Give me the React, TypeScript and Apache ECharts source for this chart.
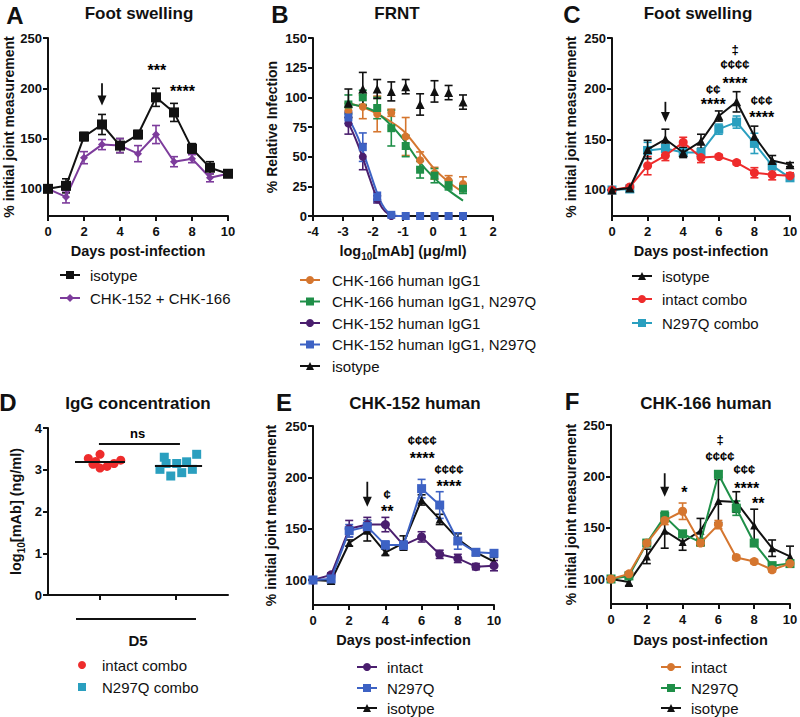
import React, { useEffect, useRef } from "react";
import * as echarts from "echarts";

const FONT = "'Liberation Sans', Arial, Helvetica, sans-serif";
const BLACK = "#111111";
const PURPLE = "#7D3C9C";
const ORANGE = "#D5762F";
const GREEN = "#1F8F48";
const DPURPLE = "#4A1E6E";
const BLUE = "#3D62C4";
const RED = "#EE2C2C";
const TEAL = "#2A9FBF";

// ---------------- DATA ----------------
const days = [0, 1, 2, 3, 4, 5, 6, 7, 8, 9, 10];
const swellingTicks = [100, 150, 200, 250];

// Panel A
const aIsotype = [100, 103, 152, 164, 143, 154, 191, 176, 140, 121, 115];
const aIsotypeErr = [1, 7, 4, 10, 7, 4, 9, 9, 5, 6, 3];
const aCombo = [100, 92, 131, 144, 143, 135, 154, 127, 130, 111, 115];
const aComboErr = [1, 6, 6, 5, 7, 8, 9, 5, 4, 4, 3];
const aNotes = ["***", "****"];
const aNoteX = [6.05, 7.47];
const aNoteY = [221.5, 201];
const aArrow = [3, 205, 183];

// Panel B
const logDose = [-2.82, -2.34, -1.86, -1.39, -0.91, -0.43, 0.05, 0.52, 1.0];
const b166 = [89, 92, 86, 87, 67, 47, 36, 30, 27];
const b166Err = [6, 10, 15, 3, 16, 7, 5, 4, 6];
const b166NQ = [94, 100, 91, 74, 59, 39, 34, 26, 23];
const b166NQErr = [8, 6, 9, 15, 9, 7, 6, 4, 4];
const b152 = [78, 50, 14, 0, 0, 0, 0, 0, 0];
const b152Err = [9, 11, 3, 0, 0, 0, 0, 0, 0];
const b152NQ = [83, 58, 16, 1, 0, 0, 0, 0, 0];
const b152NQErr = [5, 12, 4, 1, 0, 0, 0, 0, 0];
const bIso = [95, 107, 107, 105, 109, 94, 105, 104, 96];
const bIsoErr = [12, 14, 8, 8, 6, 9, 9, 6, 6];
const fitX166 = [-2.9, -2.5, -2.0, -1.5, -1.0, -0.5, 0.0, 0.5, 1.0];
const fit166 = [95, 93, 88, 81, 72, 57, 41, 29, 20];
const fit166NQ = [95, 93, 89, 79, 65, 47, 33, 22, 13];
const fitX152 = [-2.9, -2.7, -2.5, -2.3, -2.1, -1.9, -1.7, -1.5, -1.3, -1.0];
const fit152 = [82, 72, 60, 46, 31, 17, 7, 2, 0, 0];
const fit152NQ = [86, 77, 66, 52, 37, 22, 10, 3, 0.5, 0];

// Panel C
const cIso = [100, 102, 140, 150, 137, 148, 173, 187, 153, 129, 125];
const cIsoErr = [1, 2, 9, 10, 5, 7, 5, 10, 10, 5, 2];
const cIntact = [100, 103, 124, 134, 147, 132, 133, 127, 117, 115, 114];
const cIntactErr = [1, 2, 9, 5, 5, 5, 2, 2, 5, 5, 3];
const cNQ = [100, 101, 139, 141, 137, 137, 160, 167, 146, 124, 112];
const cNQErr = [1, 2, 8, 4, 4, 4, 5, 6, 10, 4, 3];
const cNotes = ["¢¢", "****", "‡", "¢¢¢¢", "****", "¢¢¢", "****"];
const cNoteX = [5.69, 5.69, 6.91, 6.91, 6.91, 8.41, 8.41];
const cNoteY = [199.4, 188.8, 238.2, 223.4, 209.2, 188.8, 175.7];
const cArrow = [3, 187, 167];

// Panel D
const dGroupTicks = [2.9, 7.1];
const dIntactX = [2.24, 2.65, 2.89, 2.5, 2.89, 3.28, 3.67, 4.04];
const dIntact = [3.27, 3.2, 3.37, 3.13, 3.04, 3.08, 3.15, 3.23];
const dNQX = [6.46, 6.22, 6.82, 7.15, 7.43, 7.7, 8.02, 8.26, 6.56];
const dNQ = [3.3, 3.01, 2.85, 3.15, 2.93, 3.19, 3.01, 3.37, 3.15];
const dIntactMeanSpan = [1.5, 4.28];
const dNQMeanSpan = [5.94, 8.56];
const dNsSpan = [2.83, 7.33, 3.63];
const dNsLabel = [4.98, 3.87];

// Panel E
const eIntact = [100, 105, 150, 154, 154, 134, 142, 125, 121, 113, 114];
const eIntactErr = [1, 2, 8, 7, 7, 3, 5, 4, 4, 3, 5];
const eNQ = [100, 101, 148, 152, 134, 134, 189, 173, 138, 127, 126];
const eNQErr = [1, 2, 6, 6, 4, 4, 9, 13, 8, 3, 3];
const eIso = [100, 99, 136, 148, 127, 136, 178, 159, 140, 127, 118];
const eIsoErr = [1, 3, 3, 10, 3, 7, 5, 5, 5, 3, 4];
const eNotes = ["¢", "**", "¢¢¢¢", "****", "¢¢¢¢", "****"];
const eNoteX = [4.1, 4.1, 6.04, 6.04, 7.51, 7.51];
const eNoteY = [182.8, 170.4, 235.7, 222.4, 207.8, 194.8];
const eArrow = [3, 195.7, 171.4];

// Panel F
const fIntact = [100, 105, 135, 157, 166, 135, 153, 121, 117, 109, 115];
const fIntactErr = [1, 2, 3, 4, 8, 3, 4, 2, 2, 2, 3];
const fNQ = [100, 103, 135, 161, 144, 136, 202, 169, 135, 113, 115];
const fNQErr = [1, 3, 3, 5, 3, 3, 3, 7, 3, 3, 3];
const fIso = [100, 97, 122, 147, 136, 147, 176, 175, 152, 130, 122];
const fIsoErr = [1, 4, 7, 17, 8, 12, 21, 10, 16, 8, 10];
const fNotes = ["‡", "¢¢¢¢", "¢¢¢", "****", "*", "**"];
const fNoteX = [6.09, 6.09, 7.45, 7.58, 4.1, 8.23];
const fNoteY = [235.4, 219.8, 206.2, 192.5, 188.3, 177];
const fArrow = [3, 203, 180.2];

// Legends
const legendA = ["isotype", "CHK-152 + CHK-166"];
const legendB = [
  "CHK-166 human IgG1",
  "CHK-166 human IgG1, N297Q",
  "CHK-152 human IgG1",
  "CHK-152 human IgG1, N297Q",
  "isotype",
];
const legendC = ["isotype", "intact combo", "N297Q combo"];
const legendD = ["intact combo", "N297Q combo"];
const legendEF = ["intact", "N297Q", "isotype"];

// ---------------- HELPERS ----------------
const tickLabelStyle = {
  color: BLACK,
  fontSize: 13,
  fontWeight: "bold",
  fontFamily: FONT,
};
const nameStyle = {
  color: BLACK,
  fontSize: 14.5,
  fontWeight: "bold",
  fontFamily: FONT,
};
const richSub = {
  n: { fontSize: 14.5, fontWeight: "bold", fontFamily: FONT, color: BLACK, lineHeight: 20 },
  s: { fontSize: 10, fontWeight: "bold", fontFamily: FONT, color: BLACK, lineHeight: 20, verticalAlign: "bottom" },
};

function xAxisCfg(grid: number, min: number, max: number, interval: number | undefined, name: string, nameGap: number, extra: any = {}) {
  return {
    gridIndex: grid,
    type: "value",
    min,
    max,
    interval,
    axisLine: { show: true, onZero: false, lineStyle: { color: BLACK, width: 2 } },
    axisTick: { show: true, length: 5, lineStyle: { color: BLACK, width: 2 } },
    axisLabel: { ...tickLabelStyle, margin: 9 },
    splitLine: { show: false },
    name,
    nameLocation: "middle",
    nameGap,
    nameTextStyle: { ...nameStyle },
    ...extra,
  };
}

function yAxisCfg(grid: number, min: number, max: number, name: string, nameGap: number, extra: any = {}) {
  return {
    gridIndex: grid,
    type: "value",
    min,
    max,
    axisLine: { show: true, onZero: false, lineStyle: { color: BLACK, width: 2 } },
    axisTick: { show: true, length: 5, lineStyle: { color: BLACK, width: 2 } },
    axisLabel: { ...tickLabelStyle, margin: 6 },
    splitLine: { show: false },
    name,
    nameLocation: "middle",
    nameGap,
    nameTextStyle: { ...nameStyle, fontSize: 14 },
    ...extra,
  };
}

function swellingY(grid: number, min: number, nameGap: number) {
  return yAxisCfg(grid, min, 250, "% initial joint measurement", nameGap, {
    axisTick: { show: true, length: 5, lineStyle: { color: BLACK, width: 2 }, customValues: swellingTicks },
    axisLabel: { ...tickLabelStyle, margin: 6, customValues: swellingTicks },
  });
}

function lineSeries(grid: number, xs: number[], ys: number[], color: string, symbol: string, size: number, z = 3, extra: any = {}) {
  return {
    type: "line",
    xAxisIndex: grid,
    yAxisIndex: grid,
    data: xs.map((x, i) => [x, ys[i]]),
    symbol,
    symbolSize: size,
    showSymbol: symbol !== "none",
    lineStyle: { color, width: 2 },
    itemStyle: { color, borderWidth: 0 },
    z,
    silent: true,
    emphasis: { disabled: true },
    ...extra,
  };
}

function scatterSeries(grid: number, xs: number[], ys: number[], color: string, symbol: string, size: number, z = 4, extra: any = {}) {
  return {
    type: "scatter",
    xAxisIndex: grid,
    yAxisIndex: grid,
    data: xs.map((x, i) => [x, ys[i]]),
    symbol,
    symbolSize: size,
    itemStyle: { color, opacity: 1 },
    z,
    silent: true,
    emphasis: { disabled: true },
    ...extra,
  };
}

function errSeries(grid: number, xs: number[], ys: number[], errs: number[], color: string, z = 2) {
  return {
    type: "custom",
    xAxisIndex: grid,
    yAxisIndex: grid,
    data: xs.map((x, i) => [x, ys[i] - errs[i], ys[i] + errs[i]]),
    z,
    silent: true,
    renderItem: (_p: any, api: any) => {
      const x = api.value(0);
      const lo = api.coord([x, api.value(1)]);
      const hi = api.coord([x, api.value(2)]);
      if (Math.abs(lo[1] - hi[1]) < 1.5) return { type: "group", children: [] };
      const w = 4;
      const st = { stroke: color, lineWidth: 1.6 };
      return {
        type: "group",
        children: [
          { type: "line", shape: { x1: lo[0], y1: lo[1], x2: hi[0], y2: hi[1] }, style: st },
          { type: "line", shape: { x1: lo[0] - w, y1: lo[1], x2: lo[0] + w, y2: lo[1] }, style: st },
          { type: "line", shape: { x1: hi[0] - w, y1: hi[1], x2: hi[0] + w, y2: hi[1] }, style: st },
        ],
      };
    },
  };
}

function notesSeries(grid: number, xs: number[], ys: number[], texts: string[]) {
  return {
    type: "custom",
    xAxisIndex: grid,
    yAxisIndex: grid,
    data: xs.map((x, i) => [x, ys[i]]),
    z: 10,
    silent: true,
    renderItem: (p: any, api: any) => {
      const pt = api.coord([api.value(0), api.value(1)]);
      const t = texts[p.dataIndex];
      const star = t.indexOf("*") >= 0;
      const size = star ? 16 : 13;
      return {
        type: "text",
        x: pt[0],
        y: pt[1] + (star ? 4 : 0),
        style: {
          text: t,
          fill: "#000000",
          fontSize: size,
          fontWeight: "bold",
          fontFamily: FONT,
          align: "center",
          verticalAlign: "middle",
          textAlign: "center",
          textVerticalAlign: "middle",
        },
      };
    },
  };
}

function arrowSeries(grid: number, arrow: number[]) {
  return {
    type: "custom",
    xAxisIndex: grid,
    yAxisIndex: grid,
    data: [[arrow[0], arrow[1], arrow[2]]],
    z: 10,
    silent: true,
    renderItem: (_p: any, api: any) => {
      const a = api.coord([api.value(0), api.value(1)]);
      const b = api.coord([api.value(0), api.value(2)]);
      const hw = 4.5;
      const hl = 10;
      return {
        type: "group",
        children: [
          { type: "line", shape: { x1: a[0], y1: a[1], x2: b[0], y2: b[1] - hl + 1 }, style: { stroke: BLACK, lineWidth: 1.8 } },
          {
            type: "polygon",
            shape: { points: [[b[0] - hw, b[1] - hl], [b[0] + hw, b[1] - hl], [b[0], b[1]]] },
            style: { fill: BLACK },
          },
        ],
      };
    },
  };
}

function hLine(x1: number, x2: number, y: number) {
  return {
    silent: true,
    symbol: ["none", "none"],
    label: { show: false },
    lineStyle: { color: BLACK, width: 2, type: "solid" },
    emphasis: { disabled: true },
    data: [[{ coord: [x1, y] }, { coord: [x2, y] }]],
  };
}

function mean(a: number[]) {
  return a.reduce((s, v) => s + v, 0) / a.length;
}

function symbolEl(kind: string, cx: number, cy: number, s: number, color: string) {
  const style = { fill: color };
  if (kind === "circle") return { type: "circle", shape: { cx, cy, r: s / 2 }, style };
  if (kind === "rect") return { type: "rect", shape: { x: cx - s / 2, y: cy - s / 2, width: s, height: s }, style };
  if (kind === "triangle")
    return { type: "polygon", shape: { points: [[cx, cy - s / 2], [cx + s / 2, cy + s / 2], [cx - s / 2, cy + s / 2]] }, style };
  return { type: "polygon", shape: { points: [[cx, cy - s / 2], [cx + s / 2, cy], [cx, cy + s / 2], [cx - s / 2, cy]] }, style };
}

function textEl(text: string, x: number, y: number, size: number, weight: string, align = "left") {
  return {
    type: "text",
    x,
    y,
    silent: true,
    style: {
      text,
      fill: BLACK,
      fontSize: size,
      fontWeight: weight,
      fontFamily: FONT,
      align,
      verticalAlign: "middle",
      textAlign: align,
      textVerticalAlign: "middle",
    },
  };
}

function legendBlock(labels: string[], styles: [string, string, number][], x1: number, x2: number, tx: number, ys: number[], withLine = true) {
  const els: any[] = [];
  labels.forEach((lab, i) => {
    const [color, sym, size] = styles[i];
    const y = ys[i];
    if (withLine) {
      els.push({ type: "line", shape: { x1, y1: y, x2, y2: y }, style: { stroke: color, lineWidth: 2 }, silent: true });
    }
    els.push({ ...symbolEl(sym, (x1 + x2) / 2, y, size, color), silent: true });
    els.push(textEl(lab, tx, y, 15, "normal"));
  });
  return els;
}

function buildOption() {
  const grids = [
    { left: 48, top: 38, width: 180, height: 178 },
    { left: 313, top: 38, width: 180, height: 178 },
    { left: 612, top: 38, width: 178, height: 178 },
    { left: 48, top: 428, width: 180, height: 167 },
    { left: 313, top: 426, width: 181, height: 179 },
    { left: 611, top: 425, width: 179, height: 179 },
  ].map((g) => ({ ...g, containLabel: false, outerBoundsMode: "none" }));

  const xAxis = [
    xAxisCfg(0, 0, 10, 2, "Days post-infection", 27),
    xAxisCfg(1, -4, 2, 1, "{n|log}{s|10}{n|[mAb] (μg/ml)}", 25, {
      nameTextStyle: { ...nameStyle, rich: richSub },
    }),
    xAxisCfg(2, 0, 10, 2, "Days post-infection", 27),
    xAxisCfg(3, 0, 10, undefined, "D5", 38, {
      axisLabel: { show: false },
      axisTick: { show: true, length: 5, lineStyle: { color: BLACK, width: 2 }, customValues: dGroupTicks },
      nameTextStyle: { ...nameStyle, fontSize: 15 },
    }),
    xAxisCfg(4, 0, 10, 2, "Days post-infection", 27),
    xAxisCfg(5, 0, 10, 2, "Days post-infection", 28),
  ];

  const yAxis = [
    swellingY(0, 73, 30),
    yAxisCfg(1, 0, 150, "% Relative Infection", 34, { interval: 25 }),
    swellingY(2, 74.3, 34),
    yAxisCfg(3, 0, 4, "{n|log}{s|10}{n|[mAb] (ng/ml)}", 22, {
      interval: 1,
      nameTextStyle: { ...nameStyle, rich: richSub },
    }),
    swellingY(4, 75.65, 35),
    swellingY(5, 75.65, 33),
  ];

  const series: any[] = [
    // A
    errSeries(0, days, aIsotype, aIsotypeErr, BLACK),
    errSeries(0, days, aCombo, aComboErr, PURPLE),
    lineSeries(0, days, aCombo, PURPLE, "diamond", 8, 3),
    lineSeries(0, days, aIsotype, BLACK, "rect", 10, 4),
    notesSeries(0, aNoteX, aNoteY, aNotes),
    arrowSeries(0, aArrow),

    // B
    lineSeries(1, fitX166, fit166, ORANGE, "none", 0, 2, { smooth: 0.4 }),
    lineSeries(1, fitX166, fit166NQ, GREEN, "none", 0, 2, { smooth: 0.4 }),
    lineSeries(1, fitX152, fit152, DPURPLE, "none", 0, 2, { smooth: 0.4 }),
    lineSeries(1, fitX152, fit152NQ, BLUE, "none", 0, 2, { smooth: 0.4 }),
    errSeries(1, logDose, b166, b166Err, ORANGE),
    errSeries(1, logDose, b166NQ, b166NQErr, GREEN),
    errSeries(1, logDose, b152, b152Err, DPURPLE),
    errSeries(1, logDose, b152NQ, b152NQErr, BLUE),
    errSeries(1, logDose, bIso, bIsoErr, BLACK),
    scatterSeries(1, logDose, b166, ORANGE, "circle", 8),
    scatterSeries(1, logDose, b166NQ, GREEN, "rect", 8),
    scatterSeries(1, logDose, b152, DPURPLE, "circle", 8),
    scatterSeries(1, logDose, b152NQ, BLUE, "rect", 8),
    scatterSeries(1, logDose, bIso, BLACK, "triangle", 9),

    // C
    errSeries(2, days, cNQ, cNQErr, TEAL),
    errSeries(2, days, cIntact, cIntactErr, RED),
    errSeries(2, days, cIso, cIsoErr, BLACK),
    lineSeries(2, days, cNQ, TEAL, "rect", 9, 3),
    lineSeries(2, days, cIntact, RED, "circle", 9, 4),
    lineSeries(2, days, cIso, BLACK, "triangle", 9, 5),
    notesSeries(2, cNoteX, cNoteY, cNotes),
    arrowSeries(2, cArrow),

    // D
    scatterSeries(3, dIntactX, dIntact, RED, "circle", 9, 4, {
      markLine: hLine(dIntactMeanSpan[0], dIntactMeanSpan[1], mean(dIntact)),
    }),
    scatterSeries(3, dNQX, dNQ, TEAL, "rect", 9, 4, {
      markLine: hLine(dNQMeanSpan[0], dNQMeanSpan[1], mean(dNQ)),
    }),
    scatterSeries(3, [dNsSpan[0]], [dNsSpan[2]], "rgba(0,0,0,0)", "circle", 1, 1, {
      markLine: hLine(dNsSpan[0], dNsSpan[1], dNsSpan[2]),
    }),
    notesSeries(3, [dNsLabel[0]], [dNsLabel[1]], ["ns"]),

    // E
    errSeries(4, days, eIso, eIsoErr, BLACK),
    errSeries(4, days, eIntact, eIntactErr, DPURPLE),
    errSeries(4, days, eNQ, eNQErr, BLUE),
    lineSeries(4, days, eIso, BLACK, "triangle", 8, 3),
    lineSeries(4, days, eIntact, DPURPLE, "circle", 9, 4),
    lineSeries(4, days, eNQ, BLUE, "rect", 9, 5),
    notesSeries(4, eNoteX, eNoteY, eNotes),
    arrowSeries(4, eArrow),

    // F
    errSeries(5, days, fIso, fIsoErr, BLACK),
    errSeries(5, days, fNQ, fNQErr, GREEN),
    errSeries(5, days, fIntact, fIntactErr, ORANGE),
    lineSeries(5, days, fIso, BLACK, "triangle", 8, 3),
    lineSeries(5, days, fNQ, GREEN, "rect", 9, 4),
    lineSeries(5, days, fIntact, ORANGE, "circle", 9, 5),
    notesSeries(5, fNoteX, fNoteY, fNotes),
    arrowSeries(5, fArrow),
  ];

  const graphic: any[] = [
    // panel letters
    textEl("A", 15, 15, 24, "bold", "center"),
    textEl("B", 280, 14, 24, "bold", "center"),
    textEl("C", 572, 14, 24, "bold", "center"),
    textEl("D", 8, 402, 24, "bold", "center"),
    textEl("E", 284, 402, 24, "bold", "center"),
    textEl("F", 572, 401, 24, "bold", "center"),
    // titles
    textEl("Foot swelling", 139, 13, 17, "bold", "center"),
    textEl("FRNT", 397, 13, 17, "bold", "center"),
    textEl("Foot swelling", 698, 13, 17, "bold", "center"),
    textEl("IgG concentration", 138, 403, 17, "bold", "center"),
    textEl("CHK-152 human", 415, 403, 17, "bold", "center"),
    textEl("CHK-166 human", 706, 403, 17, "bold", "center"),
    // D group bracket
    { type: "line", shape: { x1: 76, y1: 619, x2: 196, y2: 619 }, style: { stroke: BLACK, lineWidth: 2 }, silent: true },
    // legends
    ...legendBlock(legendA, [[BLACK, "rect", 8], [PURPLE, "diamond", 8]], 60, 80, 90, [275, 298]),
    ...legendBlock(
      legendB,
      [[ORANGE, "circle", 8], [GREEN, "rect", 8], [DPURPLE, "circle", 8], [BLUE, "rect", 8], [BLACK, "triangle", 8]],
      300, 320, 332, [280, 301.5, 323, 344.5, 366]
    ),
    ...legendBlock(legendC, [[BLACK, "triangle", 8], [RED, "circle", 8], [TEAL, "rect", 8]], 632, 652, 662, [276, 299, 323]),
    ...legendBlock(legendD, [[RED, "circle", 8], [TEAL, "rect", 8]], 78, 86, 102, [665, 687], false),
    ...legendBlock(legendEF, [[DPURPLE, "circle", 8], [BLUE, "rect", 8], [BLACK, "triangle", 8]], 357, 377, 387, [667, 688, 708]),
    ...legendBlock(legendEF, [[ORANGE, "circle", 8], [GREEN, "rect", 8], [BLACK, "triangle", 8]], 661, 681, 691, [667, 688, 708]),
  ];

  return {
    animation: false,
    backgroundColor: "#ffffff",
    textStyle: { fontFamily: FONT },
    grid: grids,
    xAxis,
    yAxis,
    series,
    graphic,
  };
}

export default function App() {
  const ref = useRef<HTMLDivElement>(null);
  useEffect(() => {
    if (!ref.current) return;
    const chart = echarts.init(ref.current, null, { renderer: "svg" });
    chart.setOption(buildOption() as any);
    return () => chart.dispose();
  }, []);
  return (
    <div
      ref={ref}
      style={{ position: "fixed", left: 0, top: 0, width: 800, height: 717, background: "#ffffff" }}
    />
  );
}
